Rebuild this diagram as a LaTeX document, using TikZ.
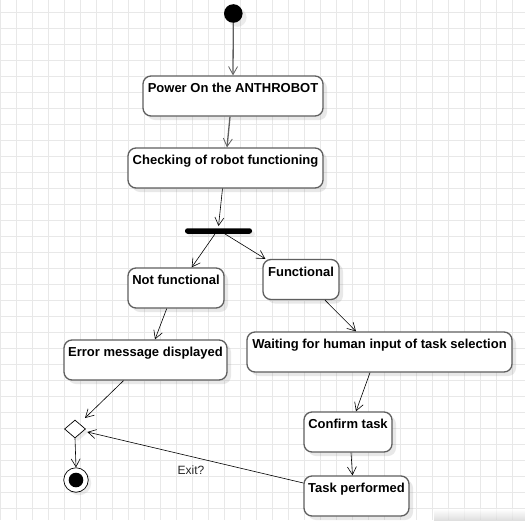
\documentclass[tikz,border=0pt]{standalone}
\usepackage{fontspec}
\setmainfont{Liberation Sans}
\usetikzlibrary{arrows.meta,shapes.geometric,shadows,calc}
\definecolor{gridc}{RGB}{232,232,232}
\definecolor{edgec}{RGB}{95,95,95}
\tikzset{
  actbox/.style={draw=edgec, line width=1.3pt, rounded corners=8pt, fill=white,
    minimum height=0pt, inner xsep=0pt, inner ysep=4pt,
    text height=12.5pt, text depth=19.5pt, align=center,
    font=\bfseries\fontsize{13}{15}\selectfont,
    drop shadow={shadow xshift=4pt, shadow yshift=-4pt, opacity=0.18, fill=gray}},
  flow/.style={draw=black, line width=0.6pt, -{Straight Barb[length=8pt,width=9pt]}},
  gflow/.style={draw=edgec, line width=1.3pt, -{Straight Barb[length=8pt,width=9pt,line width=0.8pt]}},
}
\begin{document}
\begin{tikzpicture}[x=1pt,y=-1pt]
\useasboundingbox (0,0) rectangle (525,520);
\fill[white] (0,0) rectangle (525,520);
% grid
\foreach \gx in {0,16,...,512} \draw[gridc, line width=0.8pt] (\gx,0) -- (\gx,520);
\foreach \gy in {12,28,...,508} \draw[gridc, line width=0.8pt] (0,\gy) -- (525,\gy);
% shadow smear at the bottom right
\shade[top color=white, bottom color=gray!35, opacity=0.7] (434,509) rectangle (525,520);

% nodes
\node[circle, fill=black, minimum size=18.6pt, inner sep=0pt,
  drop shadow={shadow xshift=4pt, shadow yshift=-4pt, opacity=0.15, fill=gray}] (start) at (233.3,13.5) {};
\node[actbox, minimum width=180pt] (power) at (233,96) {Power On the ANTHROBOT};
\node[actbox, minimum width=195pt] (check) at (225.5,168) {Checking of robot functioning};
\node[fill=black, rounded corners=2.5pt, minimum width=67pt, minimum height=5.5pt, inner sep=0pt,
  drop shadow={shadow xshift=3pt, shadow yshift=-3pt, opacity=0.12, fill=gray}] (bar) at (218.5,231) {};
\node[actbox, minimum width=96pt] (notf) at (176,288) {Not functional};
\node[actbox, minimum width=76pt] (func) at (301,279.5) {Functional};
\node[actbox, minimum width=163pt] (error) at (145.5,360) {Error message displayed};
\node[actbox, minimum width=265pt] (wait) at (379.5,352) {Waiting for human input of task selection};
\node[actbox, minimum width=88pt] (confirm) at (348,432) {Confirm task};
\node[actbox, minimum width=105pt] (perf) at (356.5,496) {Task performed};
\node[diamond, draw=black, line width=0.7pt, fill=white, minimum width=21pt, minimum height=18pt, inner sep=0pt,
  drop shadow={shadow xshift=3pt, shadow yshift=-3pt, opacity=0.15, fill=gray}] (dia) at (75,429) {};
\node[circle, draw=black, line width=0.7pt, fill=white, minimum size=24.5pt, inner sep=0pt,
  drop shadow={shadow xshift=3pt, shadow yshift=-3pt, opacity=0.15, fill=gray}] (endo) at (76,480) {};
\node[circle, fill=black, minimum size=14.6pt, inner sep=0pt] (endi) at (endo.center) {};

% connectors
\draw[gflow] (start.south) -- (power.north);
\draw[gflow] ([xshift=-3pt]power.south) -- ([xshift=1.5pt]check.north);
\draw[flow] ([xshift=-3pt]check.south) -- ([yshift=2pt]bar.north);
\draw[flow] ([xshift=-3.5pt]bar.south) -- ([xshift=15.7pt]notf.north);
\draw[flow] ([xshift=6.5pt]bar.south) -- ([xshift=3pt]func.north west);
\draw[flow] ([xshift=-9.3pt]notf.south) -- ([xshift=9.5pt]error.north);
\draw[flow] ([xshift=24pt]func.south) -- ([xshift=-23.5pt]wait.north);
\draw[flow] ([xshift=-9.5pt]wait.south) -- ([xshift=8pt]confirm.north);
\draw[flow] ([xshift=3pt]confirm.south) -- ([xshift=-4pt]perf.north);
\draw[flow] ([xshift=-22pt]error.south) -- ([xshift=10pt,yshift=11pt]dia.center);
\draw[flow] ([yshift=13pt]perf.west) -- node[pos=0.52, yshift=-14pt, font=\fontsize{12}{14}\selectfont, text=black!85] (exitlbl) {Exit?} ([xshift=1.5pt,yshift=-3pt]dia.east);
\draw[flow] (dia.south) -- (endo.north);
\end{tikzpicture}
\end{document}
